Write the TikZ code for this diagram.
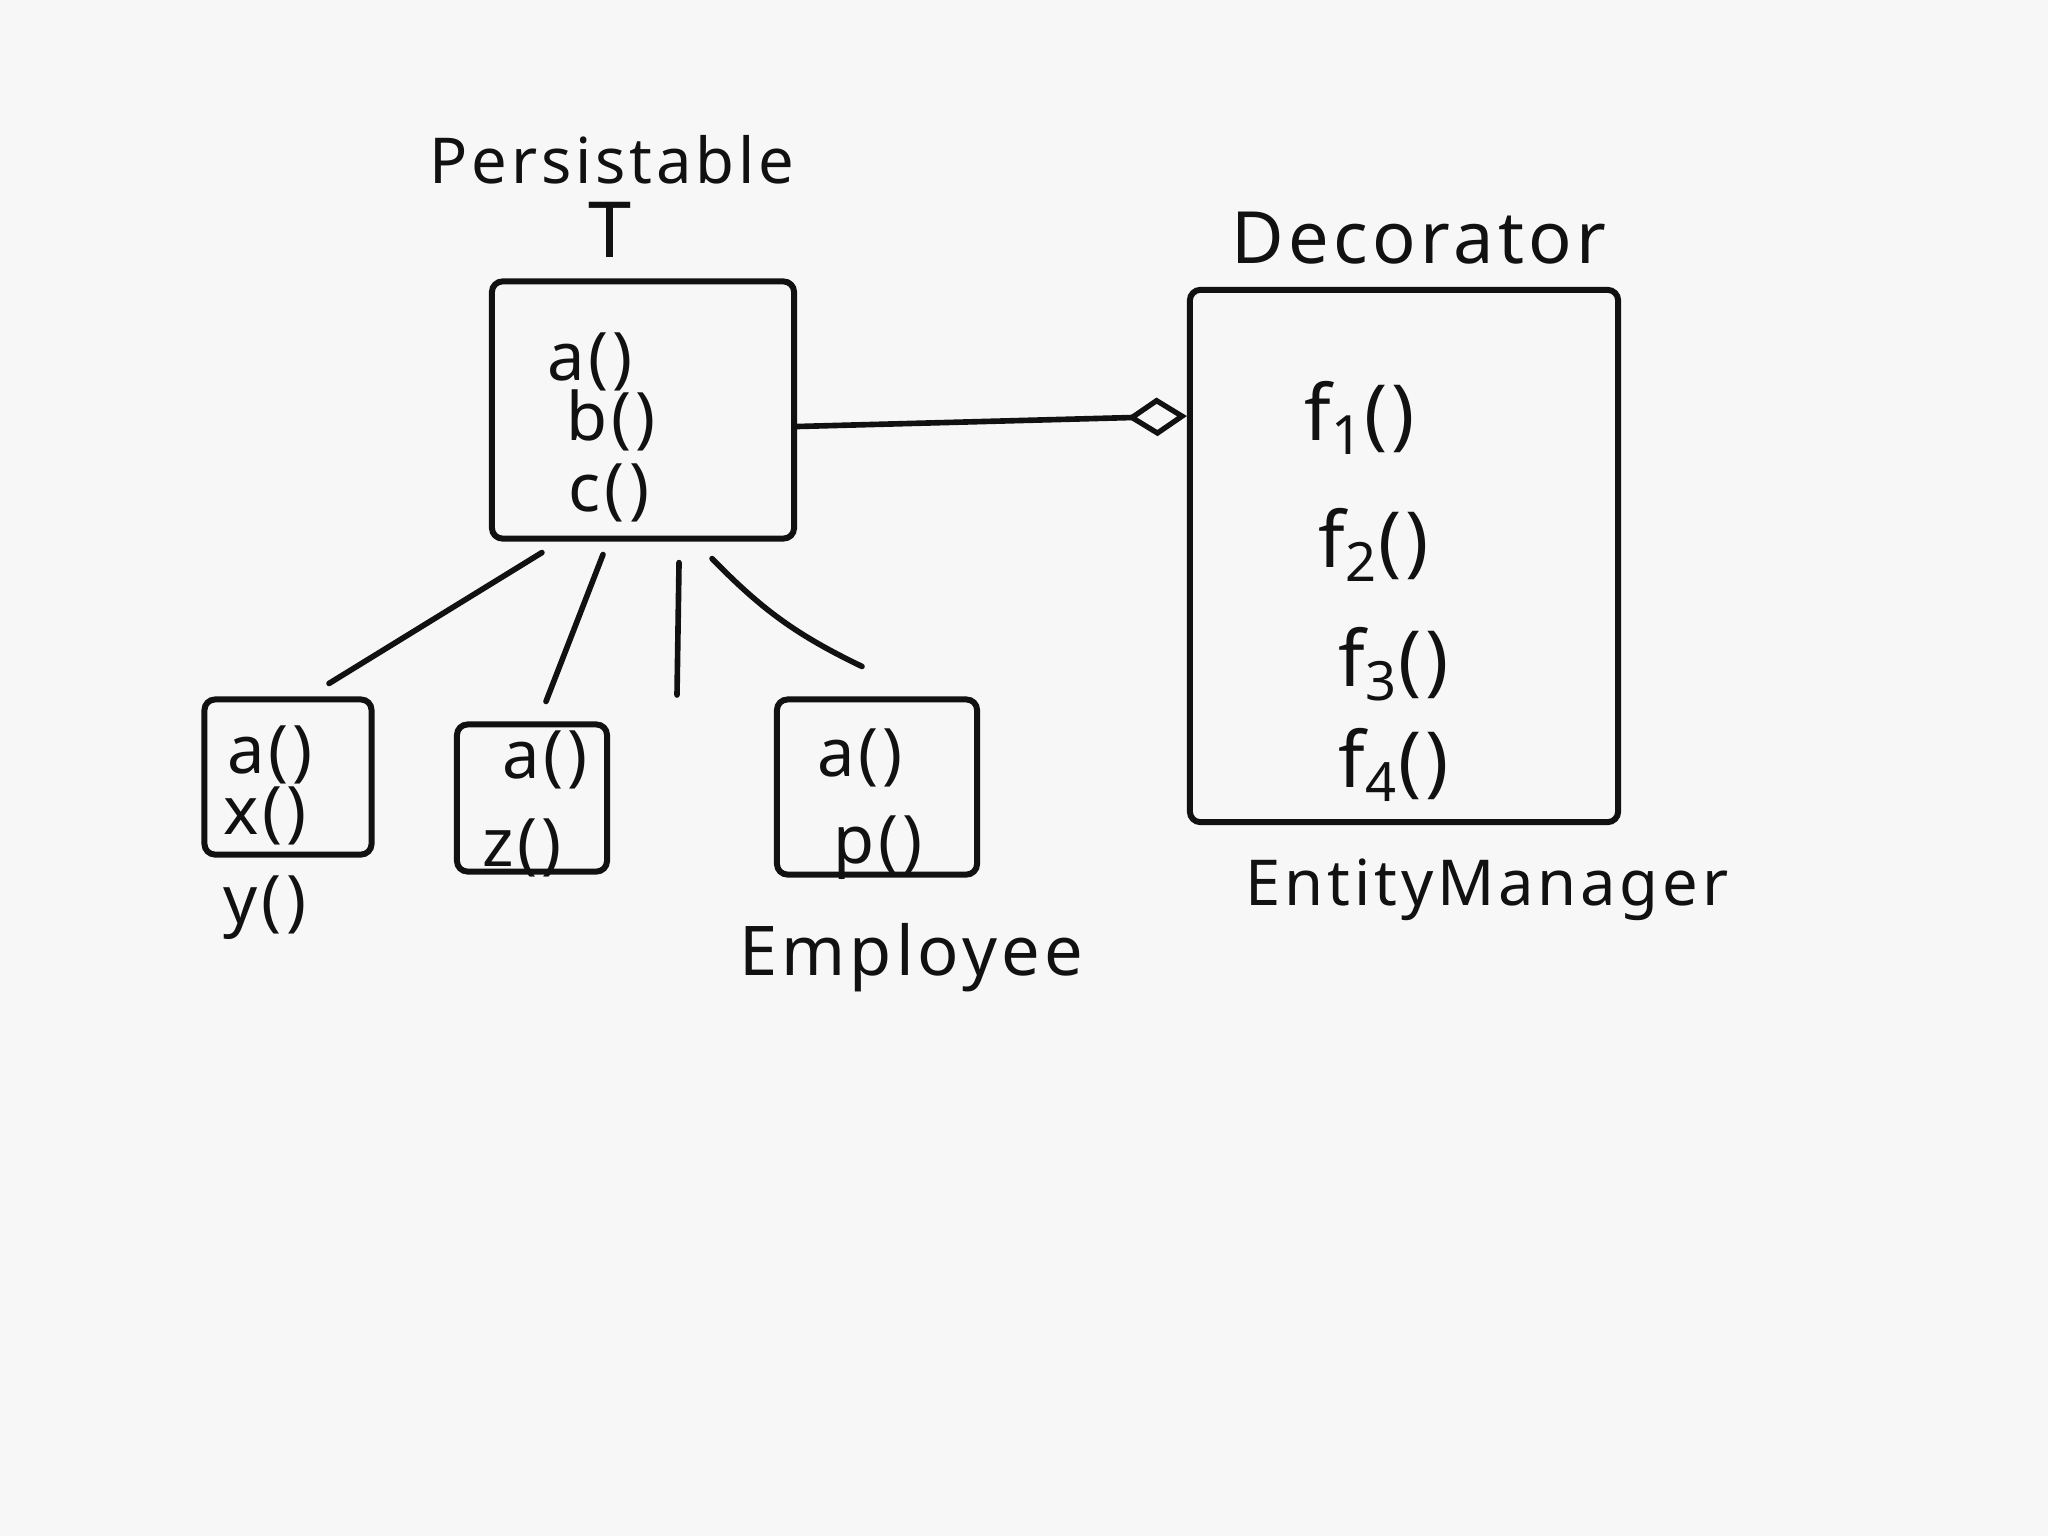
\documentclass[tikz,border=0pt]{standalone}
\usepackage{fontspec}
\setmainfont{Noto Sans}
\newfontfamily\hand[LetterSpace=6]{Noto Sans}
\usetikzlibrary{arrows.meta,calc}
\definecolor{paper}{HTML}{F7F7F7}
\definecolor{ink}{HTML}{111111}
\begin{document}
\begin{tikzpicture}[x=0.01cm,y=-0.01cm,
  box/.style={draw=ink, line width=1.7pt, rounded corners=3pt, inner sep=0pt},
  wire/.style={draw=ink, line width=1.6pt, line cap=round},
  lbl/.style={text=ink, inner sep=0pt, font=\hand\fontsize{18}{22}\selectfont},
  meth/.style={text=ink, inner sep=0pt, font=\hand\fontsize{19}{22}\selectfont},
  dmeth/.style={text=ink, inner sep=0pt, font=\hand\fontsize{22}{26}\selectfont}]
\fill[paper] (0,0) rectangle (2048,1536);
\useasboundingbox (0,0) rectangle (2048,1536);

% boxes
\node[box, minimum width=3.02cm, minimum height=2.57cm] (P) at (643,410) {};
\node[box, minimum width=4.28cm, minimum height=5.32cm] (D) at (1404,556) {};
\node[box, minimum width=1.67cm, minimum height=1.55cm] (C1) at (288,777) {};
\node[box, minimum width=1.50cm, minimum height=1.47cm] (C2) at (532,798) {};
\node[box, minimum width=2.00cm, minimum height=1.75cm] (C3) at (877,787) {};

% labels
\node[lbl] (lp) at (612,160) {Persistable};
\node[lbl, font=\hand\fontsize{22}{24}\selectfont] (lt) at (610,230) {T};
\node[lbl, font=\hand\fontsize{20.5}{24}\selectfont] (ld) at (1419,238) {Decorator};
\node[lbl] (lem) at (1487,890) {EntityManager};
\node[lbl, font=\hand\fontsize{19.5}{24}\selectfont] (lemp) at (911,958) {Employee};

% methods in Persistable
\node[meth] (pa) at (590,362) {a()};
\node[meth] (pb) at (611,420) {b()};
\node[meth] (pc) at (609,493) {c()};

% methods in Decorator
\node[dmeth] (f1) at (1360,418) {f\textsubscript{1}()};
\node[dmeth] (f2) at (1374,545) {f\textsubscript{2}()};
\node[dmeth] (f3) at (1394,664) {f\textsubscript{3}()};
\node[dmeth] (f4) at (1394,765) {f\textsubscript{4}()};

% child boxes
\node[meth] (c1a) at (270,755) {a()};
\node[meth] (c1x) at (265,816) {x()};
\node[meth] (c1y) at (265,908) {y()};
\node[meth] (c2a) at (545,760) {a()};
\node[meth] (c2z) at (522,848) {z()};
\node[meth] (c3a) at (860,758) {a()};
\node[meth] (c3p) at (878,848) {p()};

% connectors
\draw[wire] ([xshift=-1.01cm,yshift=-0.11cm]P.south) -- ([xshift=0.41cm,yshift=0.13cm]C1.north);
\draw[wire] ([xshift=-0.40cm,yshift=-0.13cm]P.south) -- ([xshift=0.14cm,yshift=0.2cm]C2.north);
\coordinate (dangle) at (677,695);
\draw[wire] ([xshift=0.36cm,yshift=-0.21cm]P.south) -- (dangle);
\draw[wire] ([xshift=0.69cm,yshift=-0.17cm]P.south) to[bend right=10] ([xshift=-0.15cm,yshift=0.3cm]C3.north);
\draw[wire, -{Diamond[open, length=17pt, width=11pt, line width=1.5pt]}]
  ([yshift=-0.165cm]P.east) -- ($(D.north west)!0.24!(D.south west)$);
\end{tikzpicture}
\end{document}
